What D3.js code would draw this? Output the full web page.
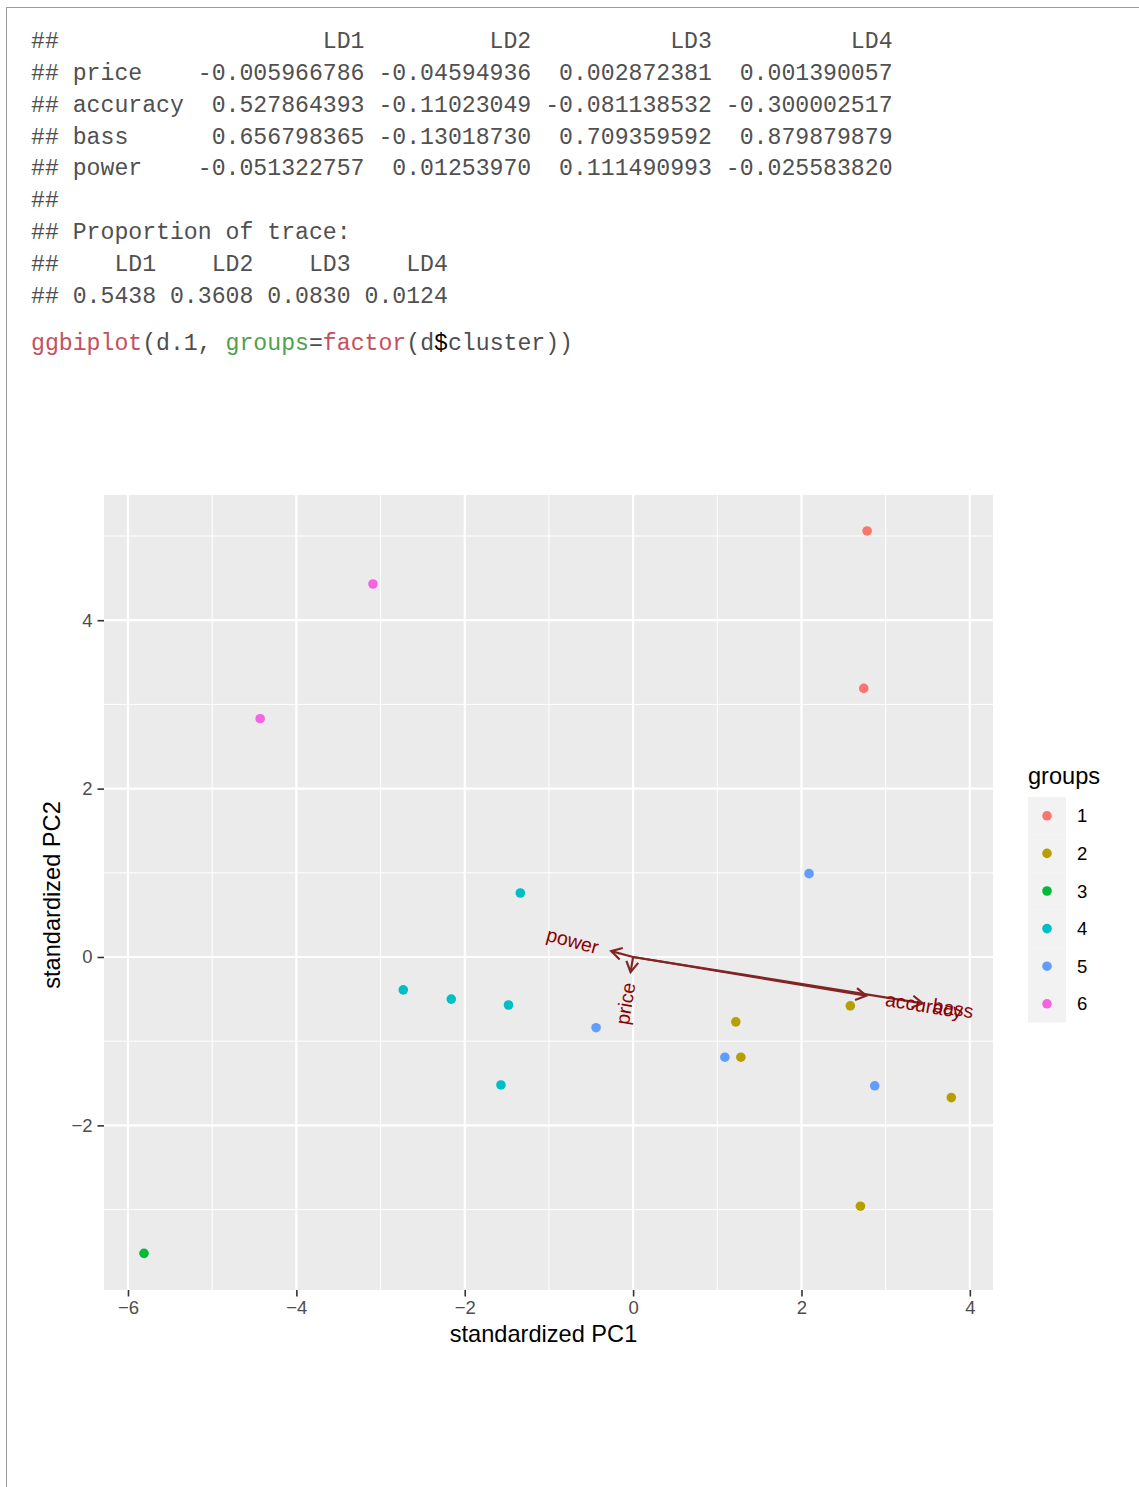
<!DOCTYPE html>
<html>
<head>
<meta charset="utf-8">
<script src="https://cdn.jsdelivr.net/npm/d3@7"></script>
<style>
  body { margin: 0; background: #fff; }
  svg text { white-space: pre; }
</style>
</head>
<body>
<svg id="page" width="1139" height="1487"></svg>
<script>
// console output printed above the plot
const outputLines = [
  "##                   LD1         LD2          LD3          LD4",
  "## price    -0.005966786 -0.04594936  0.002872381  0.001390057",
  "## accuracy  0.527864393 -0.11023049 -0.081138532 -0.300002517",
  "## bass      0.656798365 -0.13018730  0.709359592  0.879879879",
  "## power    -0.051322757  0.01253970  0.111490993 -0.025583820",
  "##",
  "## Proportion of trace:",
  "##    LD1    LD2    LD3    LD4",
  "## 0.5438 0.3608 0.0830 0.0124"
];
// code line, split in coloured tokens
const codeTokens = [
  ["ggbiplot", "#c4505e"], ["(d.1, ", "#4d4d4d"], ["groups", "#4ea14e"],
  ["=", "#4d4d4d"], ["factor", "#c4505e"], ["(d", "#4d4d4d"],
  ["$", "#000"], ["cluster))", "#4d4d4d"]
];

// scores
const groups = ["1", "2", "3", "4", "5", "6"];
const ptX = [2.78, 2.74, -3.09, -4.43, 2.09, -1.34, -2.73, -2.16, -1.48, -1.57, -0.44, 1.22, 1.09, 1.28, 2.58, 2.87, 3.78, 2.70, -5.81];
const ptY = [5.06, 3.19, 4.43, 2.83, 0.99, 0.76, -0.39, -0.50, -0.57, -1.52, -0.84, -0.77, -1.19, -1.19, -0.58, -1.53, -1.67, -2.96, -3.52];
const ptGroup = ["1", "1", "6", "6", "5", "4", "4", "4", "4", "4", "5", "2", "5", "2", "2", "5", "2", "2", "3"];

// variable arrows (end points in plot units)
const varNames = ["price", "accuracy", "bass", "power"];
const varX = [-0.03, 2.77, 3.44, -0.26];
const varY = [-0.18, -0.46, -0.55, 0.07];

const xTicks = [-6, -4, -2, 0, 2, 4];
const yTicks = [-2, 0, 2, 4];

const svg = d3.select("#page");

// page frame
svg.append("line").attr("x1", 6).attr("x2", 1139).attr("y1", 7.5).attr("y2", 7.5)
  .attr("stroke", "#9a9a9a").attr("stroke-width", 1);
svg.append("line").attr("x1", 6.5).attr("x2", 6.5).attr("y1", 7).attr("y2", 1487)
  .attr("stroke", "#9a9a9a").attr("stroke-width", 1);

const mono = "'Liberation Mono', 'DejaVu Sans Mono', monospace";
svg.append("g").selectAll("text")
  .data(outputLines)
  .join("text")
  .attr("x", 31)
  .attr("y", (d, i) => 48 + i * 31.85)
  .attr("font-family", mono)
  .attr("font-size", 23.17)
  .attr("fill", "#505050")
  .text(d => d);

const code = svg.append("text").attr("x", 31).attr("y", 350)
  .attr("font-family", mono).attr("font-size", 23.17);
code.selectAll("tspan").data(codeTokens).join("tspan")
  .attr("fill", d => d[1]).text(d => d[0]);

// plot
const panel = { left: 104, right: 993, top: 495, bottom: 1290 };
const x = d3.scaleLinear().domain([-6.285, 4.275]).range([panel.left, panel.right]);
const y = d3.scaleLinear().domain([-3.955, 5.487]).range([panel.bottom, panel.top]);
const color = d3.scaleOrdinal().domain(groups)
  .range(["#F8766D", "#B79F00", "#00BA38", "#00BFC4", "#619CFF", "#F564E3"]);

const sans = "'Liberation Sans', Arial, Helvetica, sans-serif";
const g = svg.append("g");

g.append("rect").attr("x", panel.left).attr("y", panel.top)
  .attr("width", panel.right - panel.left).attr("height", panel.bottom - panel.top)
  .attr("fill", "#ebebeb");

const xMinor = d3.range(-5, 4.5, 2), yMinor = d3.range(-3, 5.5, 2);
g.append("g").selectAll("line").data(xMinor).join("line")
  .attr("x1", d => x(d)).attr("x2", d => x(d)).attr("y1", panel.top).attr("y2", panel.bottom)
  .attr("stroke", "#fff").attr("stroke-width", 1);
g.append("g").selectAll("line").data(yMinor).join("line")
  .attr("y1", d => y(d)).attr("y2", d => y(d)).attr("x1", panel.left).attr("x2", panel.right)
  .attr("stroke", "#fff").attr("stroke-width", 1);
g.append("g").selectAll("line").data(xTicks).join("line")
  .attr("x1", d => x(d)).attr("x2", d => x(d)).attr("y1", panel.top).attr("y2", panel.bottom)
  .attr("stroke", "#fff").attr("stroke-width", 2.2);
g.append("g").selectAll("line").data(yTicks).join("line")
  .attr("y1", d => y(d)).attr("y2", d => y(d)).attr("x1", panel.left).attr("x2", panel.right)
  .attr("stroke", "#fff").attr("stroke-width", 2.2);

// axes
const fmt = d => d3.format("")(d);
const xAxis = g.append("g").attr("transform", `translate(0,${panel.bottom})`)
  .call(d3.axisBottom(x).tickValues(xTicks).tickSize(6.5).tickPadding(4).tickFormat(fmt));
const yAxis = g.append("g").attr("transform", `translate(${panel.left},0)`)
  .call(d3.axisLeft(y).tickValues(yTicks).tickSize(6.5).tickPadding(5).tickFormat(fmt));
[xAxis, yAxis].forEach(a => {
  a.select(".domain").remove();
  a.selectAll(".tick line").attr("stroke", "#333").attr("stroke-width", 1.6);
  a.selectAll(".tick text").attr("fill", "#4d4d4d").attr("font-size", 18.5)
    .attr("font-family", sans);
});

g.append("text").attr("x", 543.5).attr("y", 1342)
  .attr("text-anchor", "middle").attr("font-family", sans).attr("font-size", 23.6)
  .attr("fill", "#000").text("standardized PC1");
g.append("text").attr("transform", `translate(60,895) rotate(-90)`)
  .attr("text-anchor", "middle").attr("font-family", sans).attr("font-size", 23.6)
  .attr("fill", "#000").text("standardized PC2");

// points
g.append("g").selectAll("circle").data(ptX).join("circle")
  .attr("cx", d => x(d)).attr("cy", (d, i) => y(ptY[i])).attr("r", 4.8)
  .attr("fill", (d, i) => color(ptGroup[i]));

// arrows
const arrowCol = "#832424";
const headLen = 12, headAng = Math.PI / 6;
const arr = g.append("g");
varNames.forEach((name, i) => {
  const x0 = x(0), y0 = y(0), x1 = x(varX[i]), y1 = y(varY[i]);
  arr.append("line").attr("x1", x0).attr("y1", y0).attr("x2", x1).attr("y2", y1)
    .attr("stroke", arrowCol).attr("stroke-width", 2.2);
  const a = Math.atan2(y1 - y0, x1 - x0);
  const pts = [
    [x1 - headLen * Math.cos(a - headAng), y1 - headLen * Math.sin(a - headAng)],
    [x1, y1],
    [x1 - headLen * Math.cos(a + headAng), y1 - headLen * Math.sin(a + headAng)]
  ];
  arr.append("path").attr("d", d3.line()(pts)).attr("fill", "none")
    .attr("stroke", arrowCol).attr("stroke-width", 2.2);
});
varNames.forEach((name, i) => {
  const x1 = x(varX[i]), y1 = y(varY[i]);
  const ang = -Math.atan(varY[i] / varX[i]) * 180 / Math.PI;
  const hjust = (1 - 1.5 * Math.sign(varX[i])) / 2;
  const t = arr.append("text")
    .attr("transform", `translate(${x1},${y1}) rotate(${ang})`)
    .attr("font-family", sans).attr("font-size", 19.5).attr("fill", "#8B0000")
    .attr("dy", "0.35em").text(name);
  const w = t.node().getComputedTextLength();
  t.attr("x", -hjust * w);
});

// legend
const lg = svg.append("g");
lg.append("text").attr("x", 1028).attr("y", 784).attr("font-family", sans)
  .attr("font-size", 23.6).attr("fill", "#000").text("groups");
const keyH = 37.6, keyTop = 797;
lg.append("g").selectAll("rect").data(groups).join("rect")
  .attr("x", 1028).attr("y", (d, i) => keyTop + i * keyH)
  .attr("width", 38).attr("height", keyH).attr("fill", "#f2f2f2");
lg.append("g").selectAll("circle").data(groups).join("circle")
  .attr("cx", 1047).attr("cy", (d, i) => keyTop + i * keyH + keyH / 2).attr("r", 4.8)
  .attr("fill", d => color(d));
lg.append("g").selectAll("text").data(groups).join("text")
  .attr("x", 1077).attr("y", (d, i) => keyTop + i * keyH + keyH / 2)
  .attr("dy", "0.36em").attr("font-family", sans).attr("font-size", 18.5)
  .attr("fill", "#000").text(d => d);
</script>
</body>
</html>
